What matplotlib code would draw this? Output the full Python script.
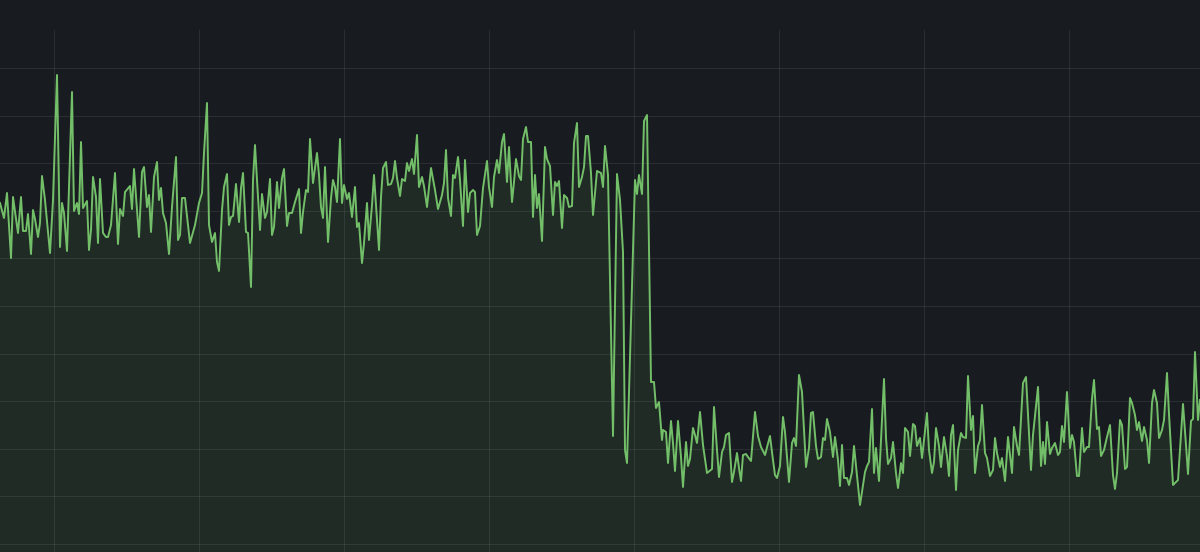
import numpy as np
import matplotlib
matplotlib.use("Agg")
import matplotlib.pyplot as plt

# sample times (s) and values
t_a = [0, 4, 7, 11, 13, 18, 21, 23, 26, 28, 31, 33, 35, 38, 40, 42, 45, 50, 53, 57,
       60, 62, 64, 67, 72, 74, 77, 79, 81, 83, 87, 89, 91, 93, 96, 98, 100, 103, 106, 108,
       111, 115, 118, 120, 123, 125, 130, 132, 134, 139, 142, 144, 147, 149, 151, 154, 157, 159, 161, 163,
       166, 169, 172, 176, 178, 180, 182, 185, 190, 195, 199, 202, 204, 207, 209, 212, 215, 217, 219]
v_a = [349, 334, 359, 294, 355, 319, 355, 321, 321, 338, 298, 342, 333, 315, 329, 376, 352, 299, 352, 477,
       305, 349, 339, 301, 460, 341, 349, 338, 410, 344, 351, 302, 322, 375, 355, 309, 373, 319, 315, 315,
       327, 379, 308, 343, 336, 360, 366, 343, 383, 315, 380, 385, 345, 357, 320, 375, 390, 352, 364, 339,
       329, 298, 345, 395, 312, 317, 354, 354, 309, 327, 349, 359, 399, 449, 327, 310, 319, 290, 281]

t_b = [222, 224, 227, 229, 231, 233, 236, 239, 241, 243, 246, 248, 251, 253, 255, 257, 260, 262, 265, 267,
       270, 272, 274, 277, 279, 282, 284, 287, 289, 292, 295, 299, 301, 303, 306, 308, 310, 313, 317, 319,
       321, 323, 325, 328, 331, 333, 335, 337, 340, 342, 344, 347, 349, 352, 355, 357, 359, 362, 364, 367,
       369, 372, 374, 379, 381, 383, 386, 388, 391, 393, 395, 397, 400, 402, 405, 407, 409, 412, 414, 417]
v_b = [342, 365, 378, 327, 335, 336, 368, 330, 364, 379, 320, 319, 265, 372, 407, 372, 322, 358, 334, 340,
       373, 317, 325, 370, 344, 374, 383, 326, 339, 339, 350, 363, 319, 340, 362, 360, 413, 369, 399, 377,
       345, 334, 385, 310, 354, 372, 365, 350, 413, 349, 367, 353, 359, 335, 365, 325, 329, 289, 309, 349,
       312, 347, 377, 302, 355, 384, 390, 367, 368, 374, 391, 374, 356, 373, 371, 389, 381, 393, 378, 417]

t_c = [419, 422, 424, 427, 431, 435, 438, 442, 444, 446, 448, 451, 453, 455, 458, 460, 463, 465, 468, 470,
       473, 475, 477, 480, 483, 487, 489, 492, 494, 497, 499, 502, 504, 507, 509, 512, 514, 516, 519, 521,
       523, 526, 528, 531, 533, 535, 537, 539, 542, 545, 547, 550, 553, 555, 557, 559, 562, 564, 567, 569,
       572, 574, 577, 579, 582, 584, 586, 588, 591, 593, 597, 601, 603, 605, 608]
v_c = [365, 375, 366, 345, 384, 362, 343, 357, 369, 402, 354, 336, 377, 374, 395, 372, 326, 392, 340, 359,
       362, 360, 317, 326, 364, 391, 365, 345, 375, 392, 379, 410, 418, 370, 405, 350, 370, 393, 376, 372,
       413, 425, 410, 410, 335, 377, 344, 358, 311, 405, 393, 386, 337, 370, 366, 371, 324, 357, 354, 345,
       346, 409, 429, 365, 375, 385, 416, 416, 379, 337, 381, 379, 365, 406, 377]

t_d = [613, 617, 620, 623, 625, 627, 635, 637, 639, 642, 644, 647, 651, 654, 656, 659, 662, 663, 666, 668,
       671, 673, 675, 678, 681, 683, 686, 688, 690]
v_d = [116, 378, 352, 300, 102, 89, 372, 358, 377, 358, 431, 437, 170, 170, 144, 150, 112, 122, 120, 89,
       131, 109, 81, 131, 95, 65, 110, 86, 93]

t_e = [693, 695, 697, 700, 703, 707, 712, 714, 717, 719, 722, 724, 726, 729, 732, 734, 737, 739, 741, 743,
       746, 748, 751, 755, 758, 761, 765, 770, 773, 775, 777, 780, 783, 785, 789, 792, 794, 796, 799, 802,
       806, 809, 811, 813, 816, 818, 821, 823, 825, 827, 830, 833, 835, 838, 840, 842, 844, 847, 849, 852,
       854, 857, 860, 863, 865, 867, 869, 872, 874, 876, 879, 884, 886, 888, 891, 893, 896, 898, 901, 903,
       905, 908, 910, 913, 915, 917, 920]
v_e = [124, 117, 109, 140, 107, 79, 83, 145, 102, 75, 100, 105, 117, 119, 70, 80, 99, 84, 71, 97,
       98, 95, 91, 140, 116, 105, 97, 116, 92, 77, 74, 86, 135, 120, 70, 109, 114, 106, 177, 160,
       85, 104, 139, 140, 106, 93, 95, 114, 112, 133, 120, 95, 115, 92, 66, 107, 74, 74, 67, 80,
       106, 77, 47, 67, 80, 86, 90, 143, 79, 104, 71, 173, 114, 88, 94, 110, 79, 64, 89, 79,
       124, 120, 96, 128, 126, 106, 114]

t_f = [922, 927, 929, 932, 934, 936, 939, 941, 944, 947, 949, 951, 953, 956, 958, 961, 963, 966, 968, 971,
       973, 975, 978, 980, 982, 985, 987, 990, 993, 995, 997, 1000, 1002, 1005, 1008, 1012, 1014, 1017, 1019, 1023,
       1026, 1031, 1033, 1038, 1041, 1043, 1045, 1047, 1050, 1052, 1055, 1058, 1060, 1062, 1064, 1067, 1070, 1072, 1074, 1077,
       1079, 1082, 1084, 1087, 1089, 1092, 1094, 1097, 1099, 1101, 1104, 1107, 1110, 1113, 1115, 1117, 1120, 1122, 1125, 1127,
       1130, 1132, 1135, 1137, 1139, 1142, 1144, 1147, 1149, 1152, 1154, 1157, 1159, 1162, 1164, 1167, 1169, 1173, 1178, 1183,
       1186, 1188, 1191, 1193, 1195, 1198, 1200]
v_f = [94, 139, 102, 79, 90, 124, 106, 85, 115, 96, 76, 117, 127, 62, 102, 119, 115, 114, 176, 122,
       136, 79, 106, 112, 147, 99, 94, 76, 82, 114, 99, 85, 94, 71, 115, 79, 125, 106, 97, 169,
       175, 82, 117, 165, 86, 110, 88, 130, 98, 104, 109, 97, 100, 126, 110, 160, 104, 117, 110, 76,
       76, 124, 100, 105, 105, 153, 172, 123, 125, 96, 102, 115, 127, 77, 63, 79, 132, 127, 83, 85,
       154, 149, 137, 122, 130, 111, 125, 112, 89, 149, 162, 149, 114, 122, 132, 179, 138, 67, 72, 148,
       107, 78, 131, 133, 200, 132, 152]

t = np.array(t_a + t_b + t_c + t_d + t_e + t_f)
v = np.array(v_a + v_b + v_c + v_d + v_e + v_f)

bg = "#181b1f"
green = "#73bf69"

fig = plt.figure(figsize=(12, 5.52), dpi=100, facecolor=bg)
ax = fig.add_axes([0, 0, 1, 522 / 552])
ax.set_facecolor(bg)

ax.fill_between(t, v, 0, color=green, alpha=0.1, linewidth=0)
ax.plot(t, v, color=green, linewidth=1.4)

ax.set_xlim(0, 1200)
ax.set_ylim(0, 522)
ax.set_xticks([54, 199, 344, 489, 634, 779, 924, 1069])
ax.set_yticks(np.linspace(8, 484, 11))
ax.grid(True, color="#ccccdc", alpha=0.1, linewidth=0.8)
ax.set_axisbelow(True)
ax.tick_params(length=0, labelbottom=False, labelleft=False)
for s in ax.spines.values():
    s.set_visible(False)

fig.savefig("out.png", dpi=100, facecolor=bg)
